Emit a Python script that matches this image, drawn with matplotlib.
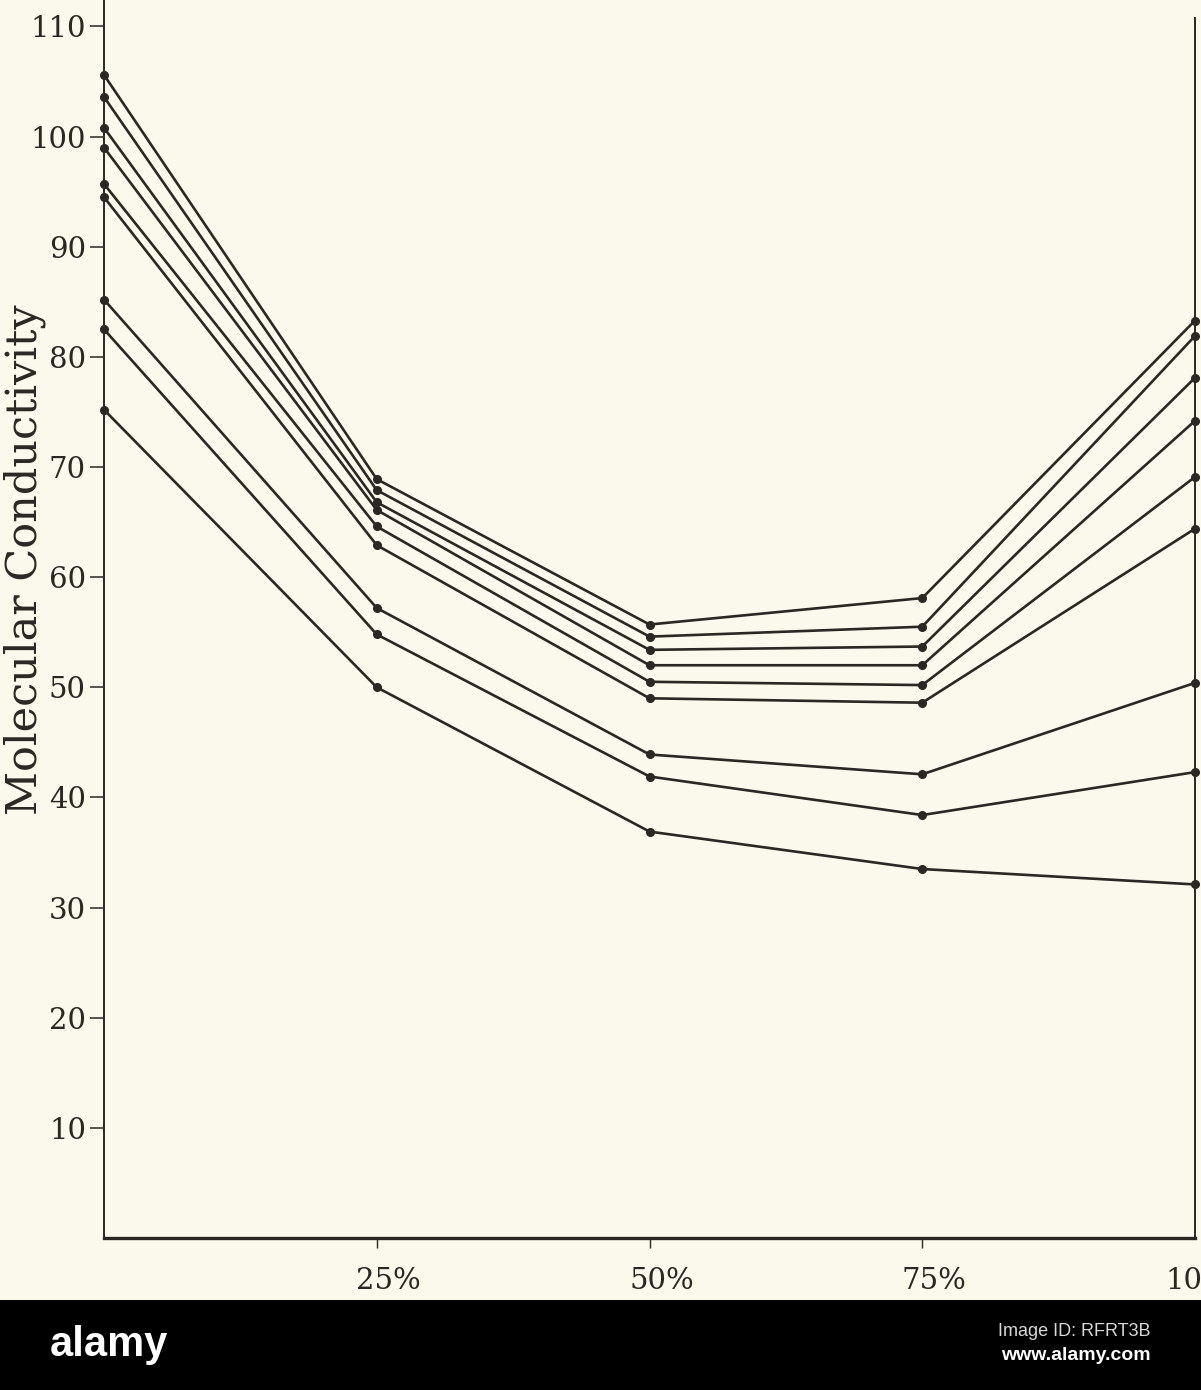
import matplotlib.pyplot as plt
from matplotlib.patches import Rectangle
from matplotlib.transforms import ScaledTranslation

# concentration steps on the x axis
concentration = [0, 25, 50, 75, 100]
x_ticks = [25, 50, 75, 100]
x_tick_labels = ["25%", "50%", "75%", "100%"]
y_ticks = [10, 20, 30, 40, 50, 60, 70, 80, 90, 100, 110]

# molecular conductivity, one curve per series (top to bottom)
curve_1 = [105.6, 68.9, 55.7, 58.1, 83.3]
curve_2 = [103.6, 67.9, 54.6, 55.5, 81.9]
curve_3 = [100.8, 66.8, 53.4, 53.7, 78.1]
curve_4 = [99.0, 66.1, 52.0, 52.0, 74.2]
curve_5 = [95.7, 64.6, 50.5, 50.2, 69.1]
curve_6 = [94.5, 62.9, 49.0, 48.6, 64.4]
curve_7 = [85.2, 57.2, 43.9, 42.1, 50.4]
curve_8 = [82.5, 54.8, 41.9, 38.4, 42.3]
curve_9 = [75.2, 50.0, 36.9, 33.5, 32.1]
curves = [curve_1, curve_2, curve_3, curve_4, curve_5,
          curve_6, curve_7, curve_8, curve_9]

paper = "#fbf9ec"
ink = "#2b2722"
plt.rcParams["font.family"] = ["DejaVu Serif"]

fig = plt.figure(figsize=(12.01, 13.90), dpi=100, facecolor=paper)
ax = fig.add_axes([104 / 1201, 152 / 1390, 1091 / 1201, 1238 / 1390])
ax.set_facecolor(paper)

for values in curves:
    ax.plot(concentration, values, color=ink, linewidth=1.9,
            marker="o", markersize=5.5, clip_on=False)

ax.set_xlim(0, 100)
ax.set_ylim(0, 112.4)

# spines: open top, short right border, heavy base line
ax.spines["top"].set_visible(False)
ax.spines["right"].set_bounds(0, 110.8)
for side in ["left", "right"]:
    ax.spines[side].set_color(ink)
    ax.spines[side].set_linewidth(1.4)
ax.spines["bottom"].set_color(ink)
ax.spines["bottom"].set_linewidth(2.4)

ax.set_yticks(y_ticks)
ax.set_yticklabels([str(v) for v in y_ticks])
ax.tick_params(axis="y", direction="out", length=10, width=1.1, pad=3,
               colors=ink, labelsize=21)

ax.set_xticks(x_ticks)
ax.set_xticklabels(x_tick_labels)
ax.tick_params(axis="x", direction="out", length=7, width=1.0, pad=14,
               colors=ink, labelsize=21)
ax.xaxis.get_major_ticks()[3].tick1line.set_visible(False)
shift = ScaledTranslation(0.12, 0, fig.dpi_scale_trans)
for lab in ax.get_xticklabels():
    lab.set_transform(lab.get_transform() + shift)

ax.set_ylabel("Molecular Conductivity", fontsize=31, color=ink)
ax.yaxis.set_label_coords(-0.053, 0.548)

# black banner at the bottom
fig.patches.append(Rectangle((0, 0), 1, 90 / 1390, transform=fig.transFigure,
                             facecolor="black", edgecolor="none", zorder=10))
fig.text(50 / 1201, 45 / 1390, "alamy", color="white", fontsize=30,
         fontweight="bold", family=["Liberation Sans", "DejaVu Sans"],
         ha="left", va="center", zorder=11)
fig.text(1151 / 1201, 58 / 1390, "Image ID: RFRT3B", color="#d8d8d8",
         fontsize=13, family=["Liberation Sans", "DejaVu Sans"],
         ha="right", va="center", zorder=11)
fig.text(1151 / 1201, 34 / 1390, "www.alamy.com", color="white",
         fontsize=14, fontweight="bold",
         family=["Liberation Sans", "DejaVu Sans"],
         ha="right", va="center", zorder=11)

plt.savefig("out.png", dpi=100, facecolor=paper)
